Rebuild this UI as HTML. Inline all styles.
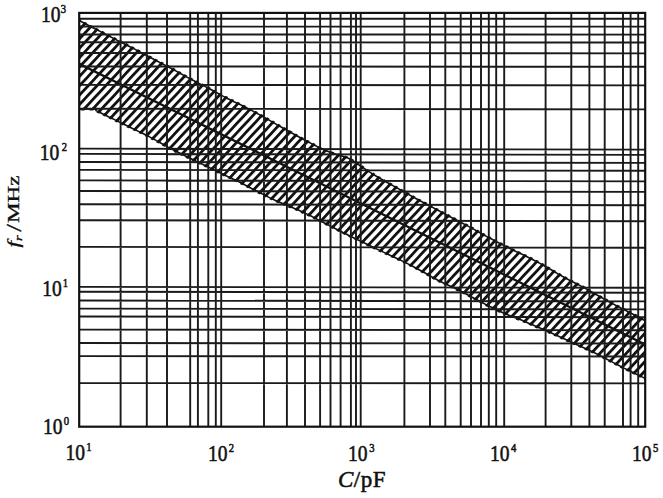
<!DOCTYPE html><html><head><meta charset="utf-8"><style>html,body{margin:0;padding:0;background:#fff;}body{width:663px;height:498px;overflow:hidden;}svg{display:block;}#w{width:663px;height:498px;}text{font-family:"Liberation Serif",serif;fill:#111;stroke:#111;stroke-width:0.55px;}</style></head><body>
<div id="w">
<svg width="663" height="498" viewBox="0 0 663 498">
<defs><pattern id="h" patternUnits="userSpaceOnUse" width="20" height="6.4" patternTransform="rotate(-47)"><rect x="0" y="0" width="20" height="2.8" fill="#111"/></pattern><clipPath id="pc"><rect x="79.2" y="12.9" width="566.0" height="413.8"/></clipPath></defs>
<rect width="663" height="498" fill="#fff"/>
<g>
<g clip-path="url(#pc)"><polygon points="79.2,20.4 84.0,23.0 90.0,26.2 96.0,29.3 102.0,32.4 108.0,35.5 114.0,38.6 120.0,41.7 126.0,44.7 132.0,47.8 138.0,50.9 144.0,54.0 150.0,57.3 156.0,60.5 162.0,63.6 168.0,66.7 174.0,69.9 180.0,73.2 186.0,76.6 192.0,79.8 198.0,82.9 204.0,85.9 210.0,89.0 216.0,92.3 222.0,95.6 228.0,98.7 234.0,101.7 240.0,104.5 246.0,107.5 252.0,110.6 258.0,113.9 264.0,117.2 270.0,120.6 276.0,124.1 282.0,127.5 288.0,130.8 294.0,134.2 300.0,137.5 306.0,140.7 312.0,143.9 318.0,147.0 324.0,149.8 330.0,152.3 336.0,154.3 342.0,156.0 348.0,158.1 354.0,161.5 360.0,165.6 366.0,169.7 372.0,173.6 378.0,177.3 384.0,180.7 390.0,184.0 396.0,187.4 402.0,190.7 408.0,194.1 414.0,197.5 420.0,200.7 426.0,203.9 432.0,207.1 438.0,210.3 444.0,213.6 450.0,216.7 456.0,219.8 462.0,223.0 468.0,226.1 474.0,229.4 480.0,232.7 486.0,236.1 492.0,239.3 498.0,242.5 504.0,245.6 510.0,248.5 516.0,251.5 522.0,254.3 528.0,257.2 534.0,260.2 540.0,263.4 546.0,266.8 552.0,270.3 558.0,273.9 564.0,277.3 570.0,280.5 576.0,283.5 582.0,286.6 588.0,289.9 594.0,293.3 600.0,296.7 606.0,300.1 612.0,303.4 618.0,306.5 624.0,309.6 630.0,312.7 636.0,315.8 642.0,319.0 645.2,320.7 645.2,378.4 642.0,376.9 636.0,374.0 630.0,371.0 624.0,368.1 618.0,365.0 612.0,361.9 606.0,358.7 600.0,355.6 594.0,352.5 588.0,349.7 582.0,347.0 576.0,344.3 570.0,341.6 564.0,338.8 558.0,336.0 552.0,333.3 546.0,330.7 540.0,328.1 534.0,325.5 528.0,322.9 522.0,320.3 516.0,318.0 510.0,315.7 504.0,313.3 498.0,310.5 492.0,307.5 486.0,304.6 480.0,301.5 474.0,298.3 468.0,295.0 462.0,291.8 456.0,288.8 450.0,286.0 444.0,283.2 438.0,280.3 432.0,277.0 426.0,273.5 420.0,270.2 414.0,267.0 408.0,263.9 402.0,260.9 396.0,258.0 390.0,255.2 384.0,252.4 378.0,249.6 372.0,246.7 366.0,243.8 360.0,240.9 354.0,238.0 348.0,235.0 342.0,232.0 336.0,229.0 330.0,225.9 324.0,222.7 318.0,219.6 312.0,216.5 306.0,213.6 300.0,210.8 294.0,208.2 288.0,205.8 282.0,203.3 276.0,200.7 270.0,197.9 264.0,194.9 258.0,191.8 252.0,188.7 246.0,185.5 240.0,182.4 234.0,179.5 228.0,176.7 222.0,173.8 216.0,170.9 210.0,167.9 204.0,165.0 198.0,162.1 192.0,159.2 186.0,156.3 180.0,153.3 174.0,150.3 168.0,147.1 162.0,143.7 156.0,140.4 150.0,137.1 144.0,134.0 138.0,131.1 132.0,128.2 126.0,125.3 120.0,122.4 114.0,119.4 108.0,116.5 102.0,113.5 96.0,110.6 96.0,109.0 79.2,109.0" fill="url(#h)" stroke="url(#h)" stroke-width="3"/>
<polygon points="79.2,20.4 84.0,23.0 90.0,26.2 96.0,29.3 102.0,32.4 108.0,35.5 114.0,38.6 120.0,41.7 126.0,44.7 132.0,47.8 138.0,50.9 144.0,54.0 150.0,57.3 156.0,60.5 162.0,63.6 168.0,66.7 174.0,69.9 180.0,73.2 186.0,76.6 192.0,79.8 198.0,82.9 204.0,85.9 210.0,89.0 216.0,92.3 222.0,95.6 228.0,98.7 234.0,101.7 240.0,104.5 246.0,107.5 252.0,110.6 258.0,113.9 264.0,117.2 270.0,120.6 276.0,124.1 282.0,127.5 288.0,130.8 294.0,134.2 300.0,137.5 306.0,140.7 312.0,143.9 318.0,147.0 324.0,149.8 330.0,152.3 336.0,154.3 342.0,156.0 348.0,158.1 354.0,161.5 360.0,165.6 366.0,169.7 372.0,173.6 378.0,177.3 384.0,180.7 390.0,184.0 396.0,187.4 402.0,190.7 408.0,194.1 414.0,197.5 420.0,200.7 426.0,203.9 432.0,207.1 438.0,210.3 444.0,213.6 450.0,216.7 456.0,219.8 462.0,223.0 468.0,226.1 474.0,229.4 480.0,232.7 486.0,236.1 492.0,239.3 498.0,242.5 504.0,245.6 510.0,248.5 516.0,251.5 522.0,254.3 528.0,257.2 534.0,260.2 540.0,263.4 546.0,266.8 552.0,270.3 558.0,273.9 564.0,277.3 570.0,280.5 576.0,283.5 582.0,286.6 588.0,289.9 594.0,293.3 600.0,296.7 606.0,300.1 612.0,303.4 618.0,306.5 624.0,309.6 630.0,312.7 636.0,315.8 642.0,319.0 645.2,320.7 645.2,378.4 642.0,376.9 636.0,374.0 630.0,371.0 624.0,368.1 618.0,365.0 612.0,361.9 606.0,358.7 600.0,355.6 594.0,352.5 588.0,349.7 582.0,347.0 576.0,344.3 570.0,341.6 564.0,338.8 558.0,336.0 552.0,333.3 546.0,330.7 540.0,328.1 534.0,325.5 528.0,322.9 522.0,320.3 516.0,318.0 510.0,315.7 504.0,313.3 498.0,310.5 492.0,307.5 486.0,304.6 480.0,301.5 474.0,298.3 468.0,295.0 462.0,291.8 456.0,288.8 450.0,286.0 444.0,283.2 438.0,280.3 432.0,277.0 426.0,273.5 420.0,270.2 414.0,267.0 408.0,263.9 402.0,260.9 396.0,258.0 390.0,255.2 384.0,252.4 378.0,249.6 372.0,246.7 366.0,243.8 360.0,240.9 354.0,238.0 348.0,235.0 342.0,232.0 336.0,229.0 330.0,225.9 324.0,222.7 318.0,219.6 312.0,216.5 306.0,213.6 300.0,210.8 294.0,208.2 288.0,205.8 282.0,203.3 276.0,200.7 270.0,197.9 264.0,194.9 258.0,191.8 252.0,188.7 246.0,185.5 240.0,182.4 234.0,179.5 228.0,176.7 222.0,173.8 216.0,170.9 210.0,167.9 204.0,165.0 198.0,162.1 192.0,159.2 186.0,156.3 180.0,153.3 174.0,150.3 168.0,147.1 162.0,143.7 156.0,140.4 150.0,137.1 144.0,134.0 138.0,131.1 132.0,128.2 126.0,125.3 120.0,122.4 114.0,119.4 108.0,116.5 102.0,113.5 96.0,110.6 96.0,109.0 79.2,109.0" fill="none" stroke="#111" stroke-width="1.6"/>
<line x1="79.2" y1="63.8" x2="645.2" y2="344.5" stroke="#111" stroke-width="2.2"/></g>
<path d="M120.6 12.9V426.7M146.8 12.9V426.7M167.0 12.9V426.7M190.2 12.9V426.7M197.9 12.9V426.7M208.3 12.9V426.7M215.8 12.9V426.7M221.2 12.9V426.7M264.0 12.9V426.7M286.9 12.9V426.7M305.0 12.9V426.7M320.1 12.9V426.7M330.5 12.9V426.7M340.6 12.9V426.7M350.9 12.9V426.7M356.0 12.9V426.7M360.7 12.9V426.7M404.4 12.9V426.7M430.0 12.9V426.7M445.3 12.9V426.7M460.7 12.9V426.7M471.0 12.9V426.7M481.0 12.9V426.7M488.8 12.9V426.7M496.2 12.9V426.7M504.2 12.9V426.7M545.6 12.9V426.7M571.3 12.9V426.7M589.4 12.9V426.7M604.7 12.9V426.7M623.0 12.9V426.7M630.6 12.9V426.7M638.2 12.9V426.7M79.2 18.78L645.2 18.82M79.2 26.56L645.2 26.65M79.2 34.43L645.2 34.58M79.2 42.31L645.2 42.51M79.2 53.07L645.2 53.35M79.2 66.43L645.2 66.80M79.2 84.87L645.2 85.37M79.2 108.70L645.2 109.36M79.2 148.67L645.2 149.61M79.2 153.92L645.2 154.86M79.2 161.97L645.2 162.91M79.2 169.87L645.2 170.81M79.2 180.42L645.2 181.36M79.2 190.97L645.2 191.91M79.2 204.27L645.2 205.21M79.2 220.27L645.2 221.21M79.2 246.87L645.2 247.81M79.2 286.87L645.2 287.81M79.2 291.77L645.2 292.70M79.2 300.56L645.2 301.41M79.2 308.64L645.2 309.42M79.2 316.47L645.2 317.18M79.2 329.63L645.2 330.22M79.2 343.03L645.2 343.50M79.2 356.13L645.2 356.50M79.2 383.09L645.2 383.33" stroke="#1a1a1a" stroke-width="1.9" fill="none"/>
<rect x="79.2" y="12.9" width="566.0" height="413.8" fill="none" stroke="#111" stroke-width="2.2"/>
<text transform="translate(41.0,22.3) scale(0.85,1)" font-size="23">10<tspan font-size="12.5" dx="0.40" dy="-9.0">3</tspan></text>
<text transform="translate(39.8,159.8) scale(0.85,1)" font-size="23">10<tspan font-size="12.5" dx="2.80" dy="-9.0">2</tspan></text>
<text transform="translate(42.2,295.8) scale(0.85,1)" font-size="23">10<tspan font-size="12.5" dx="1.20" dy="-9.0">1</tspan></text>
<text transform="translate(43.1,434.0) scale(0.85,1)" font-size="23">10<tspan font-size="12.5" dx="1.20" dy="-9.0">0</tspan></text>
<text transform="translate(65.4,460.4) scale(0.85,1)" font-size="23">10<tspan font-size="12.5" dx="1.70" dy="-9.0">1</tspan></text>
<text transform="translate(208.0,460.7) scale(0.85,1)" font-size="23">10<tspan font-size="12.5" dx="1.50" dy="-9.0">2</tspan></text>
<text transform="translate(347.9,461.0) scale(0.85,1)" font-size="23">10<tspan font-size="12.5" dx="2.20" dy="-9.0">3</tspan></text>
<text transform="translate(489.9,461.0) scale(0.85,1)" font-size="23">10<tspan font-size="12.5" dx="1.80" dy="-9.0">4</tspan></text>
<text transform="translate(632.0,461.3) scale(0.85,1)" font-size="23">10<tspan font-size="12.5" dx="1.80" dy="-9.0">5</tspan></text>
<text x="338" y="486.5" font-size="23" letter-spacing="0.5"><tspan font-style="italic">C</tspan>/pF</text>
<g transform="translate(19.2,247.5) rotate(-90) scale(1.22,0.93)"><text font-size="19" style="stroke-width:0.35px"><tspan font-style="italic">f</tspan><tspan font-size="12" dy="3" font-style="italic">r</tspan><tspan dy="-1" dx="3.0" font-size="23">/</tspan><tspan dy="-2" dx="0.7">MHz</tspan></text></g>
</g></svg></div></body></html>
